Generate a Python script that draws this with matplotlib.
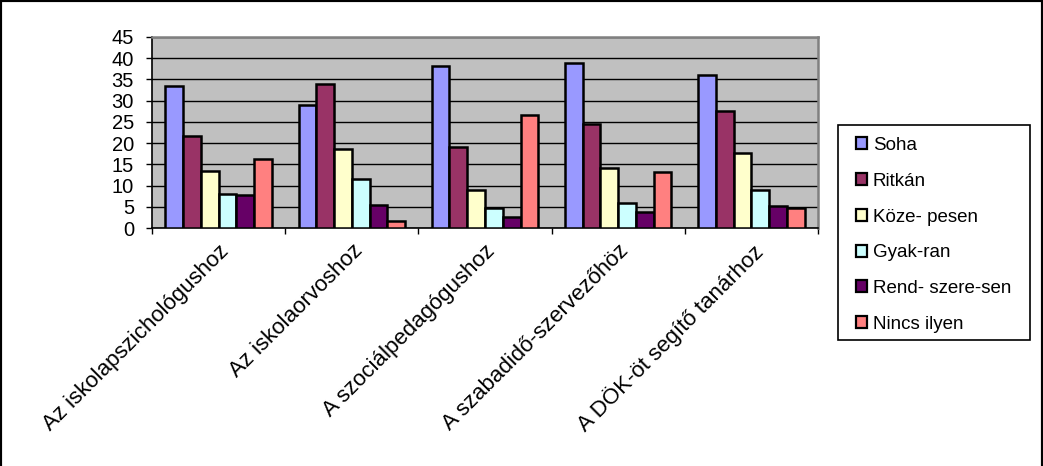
import matplotlib
matplotlib.use("Agg")
import matplotlib.pyplot as plt
import numpy as np
from matplotlib.patches import Rectangle
from matplotlib.lines import Line2D

categories = ["Az iskolapszichológushoz", "Az iskolaorvoshoz", "A szociálpedagógushoz",
              "A szabadidő-szervezőhöz", "A DÖK-öt segítő tanárhoz"]
series_names = ["Soha", "Ritkán", "Köze- pesen", "Gyak-ran", "Rend- szere-sen", "Nincs ilyen"]
soha = [33.4, 29.0, 38.2, 38.9, 36.1]
ritkan = [21.7, 34.0, 19.2, 24.6, 27.6]
kozepesen = [13.5, 18.7, 9.0, 14.2, 17.7]
gyakran = [7.9, 11.6, 4.7, 5.8, 9.0]
rendszeresen = [7.7, 5.5, 2.6, 3.7, 5.3]
nincs = [16.3, 1.7, 26.6, 13.2, 4.7]
yticks = [0, 5, 10, 15, 20, 25, 30, 35, 40, 45]

series = [soha, ritkan, kozepesen, gyakran, rendszeresen, nincs]
colors = ["#9999FF", "#993366", "#FFFFCC", "#CCFFFF", "#660066", "#FF8080"]

plt.rcParams['font.family'] = ['Liberation Sans', 'DejaVu Sans']

W, H = 1043, 466
fig = plt.figure(figsize=(W / 100, H / 100), dpi=100)
ax = fig.add_axes([152 / W, 1 - 228 / H, 666 / W, 191 / H])
ax.set_facecolor("#C0C0C0")

n = len(series)
width = 0.8 / n
x = np.arange(len(categories))
for i, (vals, c, name) in enumerate(zip(series, colors, series_names)):
    ax.bar(x - 0.4 + width * (i + 0.5), vals, width, color=c, edgecolor="black",
           linewidth=1.8, label=name, zorder=3)

ax.set_xlim(-0.5, len(categories) - 0.5)
ax.set_ylim(0, 45)
ax.set_yticks(yticks)
ax.yaxis.grid(True, color="black", linewidth=1.0, zorder=1)
ax.set_axisbelow(True)
ax.tick_params(axis='y', labelsize=14.5, length=4, width=1, direction='out', pad=9)
ax.set_yticklabels([str(t) for t in yticks])

ax.set_xticks(np.arange(-0.5, len(categories), 1.0), minor=False)
ax.set_xticklabels([])
ax.tick_params(axis='x', which='major', length=4, width=1, direction='out')
ax.set_xticks(x, minor=True)
ax.set_xticklabels(categories, minor=True, rotation=45, ha='right',
                   rotation_mode='anchor', fontsize=16)
ax.tick_params(axis='x', which='minor', length=0, pad=9)

for s in ['top', 'right']:
    ax.spines[s].set_color("#808080")
    ax.spines[s].set_linewidth(1.8)
ax.spines['left'].set_color("black")
ax.spines['bottom'].set_color("black")
ax.spines['left'].set_linewidth(1.2)
ax.spines['bottom'].set_linewidth(1.2)

# legend box
fig.patches.append(Rectangle((838 / W, 1 - 340 / H), 192 / W, 215 / H,
                             transform=fig.transFigure, fill=False,
                             edgecolor="black", linewidth=1.2))
leg = fig.legend(loc='upper left', bbox_to_anchor=(856 / W, 1 - 137 / H),
                 fontsize=13.5, frameon=False,
                 handlelength=0.6, handleheight=0.6, handletextpad=0.3,
                 labelspacing=1.0, borderpad=0, borderaxespad=0)
for h in leg.legend_handles:
    h.set_linewidth(1.6)

# outer border (top, left, right)
for xs, ys in [((0, 1), (1, 1)), ((0, 0), (0, 1)), ((1, 1), (0, 1))]:
    fig.lines.append(Line2D(xs, ys, transform=fig.transFigure, color="black",
                            linewidth=3))

fig.savefig("out.png", dpi=100)
